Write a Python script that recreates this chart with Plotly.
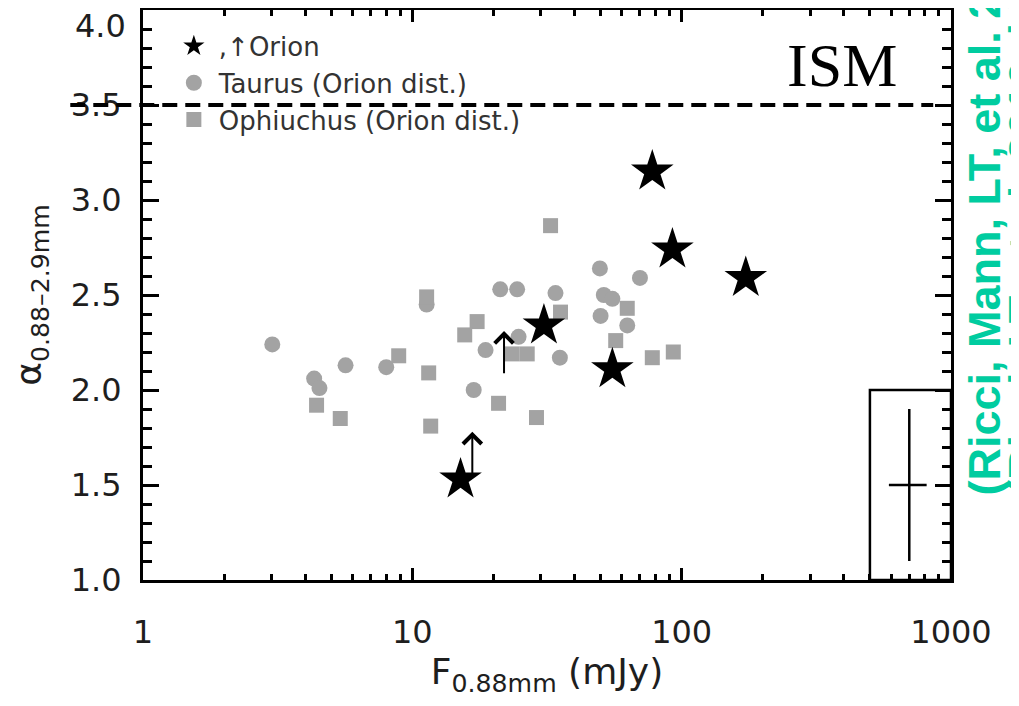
import math
import plotly.graph_objects as go

# ---------------- data ----------------
orion_flux = [77.8, 92.4, 173.0, 30.8, 55.3, 15.1]
orion_alpha = [3.15, 2.74, 2.59, 2.34, 2.11, 1.53]

orion_limit_flux = [21.9, 16.7]
orion_limit_alpha = [2.08, 1.55]
limit_arrow_len = 0.23

taurus_flux = [3.02, 4.32, 4.52, 5.65, 8.0, 11.3, 21.2, 24.5, 34.0, 24.8,
               18.7, 35.3, 16.9, 49.7, 70.0, 51.4, 55.3, 50.0, 62.8]
taurus_alpha = [2.24, 2.06, 2.01, 2.13, 2.12, 2.45, 2.53, 2.53, 2.51, 2.28,
                2.21, 2.17, 2.00, 2.64, 2.59, 2.50, 2.48, 2.39, 2.34]

ophiuchus_flux = [8.9, 4.41, 5.40, 11.5, 11.7, 11.3, 32.6, 35.5, 17.4, 15.65,
                  23.5, 26.7, 62.8, 56.9, 77.8, 93.1, 20.9, 28.9]
ophiuchus_alpha = [2.18, 1.92, 1.85, 2.09, 1.81, 2.49, 2.865, 2.41, 2.36, 2.29,
                   2.19, 2.19, 2.43, 2.26, 2.17, 2.20, 1.93, 1.855]

ism_alpha = 3.5
err_flux = [700.0]
err_alpha = [1.5]
err_alpha_size = [0.4]
err_flux_percent = 16
err_box_flux = [500.0, 1000.0]
err_box_alpha = [1.0, 2.0]

x_ticks = [1, 10, 100, 1000]
x_ticklabels = ["1", "10", "100", "1000"]
y_ticks = [1.0, 1.5, 2.0, 2.5, 3.0, 3.5]
y_ticklabels = ["1.0", "1.5", "2.0", "2.5", "3.0", "3.5"]

GREY = "#a3a3a3"
TXT = "#1e1e1e"
FONT = "DejaVu Sans"

# page body has an 8px margin: the figure is sized so that it fills the 1019x706 window
W, H = 1011, 698
L, T, R, B = 135, 2, 68, 126   # plot area 808 x 570

fig = go.Figure()

fig.add_trace(go.Scatter(
    x=taurus_flux, y=taurus_alpha, mode="markers", name="Taurus (Orion dist.)", legendrank=2,
    marker=dict(symbol="circle", size=16, color=GREY, line=dict(width=0))))
fig.add_trace(go.Scatter(
    x=ophiuchus_flux, y=ophiuchus_alpha, mode="markers", name="Ophiuchus (Orion dist.)", legendrank=3,
    marker=dict(symbol="square", size=15, color=GREY, line=dict(width=0))))
fig.add_trace(go.Scatter(
    x=orion_flux, y=orion_alpha, mode="markers", name=",\u2191Orion", legendrank=1,
    marker=dict(symbol="star", size=32, color="black", line=dict(width=0))))

# typical error bar
fig.add_trace(go.Scatter(
    x=err_flux, y=err_alpha, mode="markers", showlegend=False,
    marker=dict(size=1, color="black", opacity=0),
    error_y=dict(type="data", array=err_alpha_size, color="black", thickness=2.5, width=0),
    error_x=dict(type="percent", value=err_flux_percent, color="black", thickness=2.5, width=0)))

# lower limit arrows
for fx, fa in zip(orion_limit_flux, orion_limit_alpha):
    fig.add_annotation(x=math.log10(fx), y=fa + limit_arrow_len, ax=math.log10(fx), ay=fa,
                       xref="x", yref="y", axref="x", ayref="y", text="", showarrow=True,
                       arrowhead=4, arrowsize=1.8, arrowwidth=2, arrowcolor="black",
                       standoff=0, startstandoff=0)

# ISM dashed line
fig.add_shape(type="line", xref="paper", yref="y", x0=-0.09, x1=0.978,
              y0=ism_alpha, y1=ism_alpha, line=dict(color="black", width=4, dash="15px,8px"))
# error box
fig.add_shape(type="rect", xref="x", yref="y", x0=err_box_flux[0], x1=err_box_flux[1],
              y0=err_box_alpha[0], y1=err_box_alpha[1], line=dict(color="black", width=2.5))

fig.add_annotation(xref="paper", yref="paper", x=0.865, y=0.9035, xanchor="center", yanchor="middle",
                   text="ISM", showarrow=False,
                   font=dict(family="Liberation Serif", size=62, color="black"))

# 4.0 label (shifted inside like the original)
fig.add_annotation(xref="paper", yref="paper", x=-0.018, y=0.972, xanchor="right", yanchor="middle",
                   text="4.0", showarrow=False, font=dict(family=FONT, size=32, color=TXT))

# rotated citation text
fig.add_annotation(xref="paper", yref="paper", x=(984 - 143) / 808, y=(580 - 497) / 570,
                   xanchor="center", yanchor="bottom", textangle=-90, showarrow=False,
                   text="<b>(Ricci, Mann, LT, et al. 2011)</b>",
                   font=dict(family="Liberation Sans", size=45, color="#00CCA0"))
fig.add_annotation(xref="paper", yref="paper", x=(1024 - 143) / 808, y=(580 - 497) / 570,
                   xanchor="center", yanchor="bottom", textangle=-90, showarrow=False,
                   text="<b>(Ricci, LT, et al. 2010ab)</b>",
                   font=dict(family="Liberation Sans", size=45, color="#00CCA0"))

axis_common = dict(showline=True, linecolor="black", linewidth=3, mirror="allticks",
                   ticks="inside", tickcolor="black", tickwidth=3, showgrid=False, zeroline=False)

fig.update_xaxes(type="log", range=[0, 3], tickvals=x_ticks, ticktext=x_ticklabels,
                 ticklen=12, tickfont=dict(family=FONT, size=32, color=TXT),
                 ticklabelstandoff=22,
                 minor=dict(ticks="inside", ticklen=6, tickwidth=2.5, tickcolor="black",
                            dtick="D1", showgrid=False),
                 title=dict(text="F<sub>0.88mm</sub> (mJy)", standoff=6,
                            font=dict(family=FONT, size=36, color=TXT)),
                 **axis_common)
fig.update_yaxes(range=[1, 4], tickvals=y_ticks, ticktext=y_ticklabels,
                 ticklen=16, tickfont=dict(family=FONT, size=32, color=TXT),
                 ticklabelstandoff=12,
                 minor=dict(ticks="inside", ticklen=9, tickwidth=2.5, tickcolor="black",
                            dtick=0.1, showgrid=False),
                 title=dict(text="\u03b1<sub>0.88\u20132.9mm</sub>", standoff=22,
                            font=dict(family=FONT, size=36, color=TXT)),
                 **axis_common)

fig.update_layout(
    width=W, height=H,
    margin=dict(l=L, r=R, t=T, b=B, autoexpand=False),
    paper_bgcolor="white", plot_bgcolor="white",
    font=dict(family=FONT, color=TXT),
    legend=dict(x=0.032, y=0.978, xanchor="left", yanchor="top", bgcolor="rgba(0,0,0,0)",
                font=dict(family=FONT, size=26, color="#333333"), itemsizing="trace",
                itemwidth=40, traceorder="normal"),
)

fig.write_html("out.html")
